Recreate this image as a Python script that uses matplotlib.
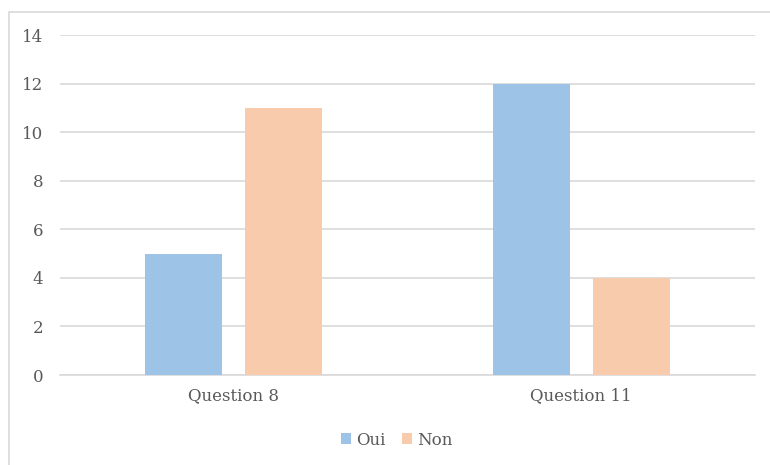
import matplotlib
matplotlib.use("Agg")
import matplotlib.pyplot as plt
from matplotlib.patches import Rectangle
import numpy as np

categories = ["Question 8", "Question 11"]
oui = [5, 12]
non = [11, 4]
yticks = [0, 2, 4, 6, 8, 10, 12, 14]

plt.rcParams['font.family'] = ['DejaVu Serif']

W, H = 770, 465
fig = plt.figure(figsize=(W / 100, H / 100), dpi=100)
ax = fig.add_axes([60 / W, 1 - 375 / H, 695 / W, 340 / H])

# outer chart frame (extends past the right and bottom edges)
fig.patches.append(Rectangle((9 / W, -0.1), 1.2, 1 - 12 / H + 0.1,
                             transform=fig.transFigure, fill=False,
                             edgecolor="#D9D9D9", linewidth=1.2))

x = np.arange(len(categories))
bw = 0.222
off = 0.144
ax.bar(x - off, oui, bw, color="#9DC3E6", label="Oui", zorder=3)
ax.bar(x + off, non, bw, color="#F8CBAD", label="Non", zorder=3)

ax.set_xlim(-0.5, 1.5)
ax.set_ylim(0, 14)
ax.set_yticks(yticks)
ax.set_xticks(x)
ax.set_xticklabels(categories)
ax.grid(axis="y", color="#D9D9D9", linewidth=1.2, zorder=0)
for s in ["top", "right", "left"]:
    ax.spines[s].set_visible(False)
ax.spines["bottom"].set_color("#D9D9D9")
ax.spines["bottom"].set_linewidth(1.2)
ax.tick_params(axis="both", length=0, colors="#595959", labelsize=12)
ax.tick_params(axis="y", pad=12)
ax.tick_params(axis="x", pad=9)

fig.legend(loc="center", bbox_to_anchor=(397 / W, 1 - 440 / H), ncol=2,
           frameon=False, fontsize=12, handlelength=0.6, handleheight=0.6,
           handletextpad=0.3, columnspacing=1.0, labelcolor="#595959")

fig.savefig("out.png", dpi=100, facecolor="white")
